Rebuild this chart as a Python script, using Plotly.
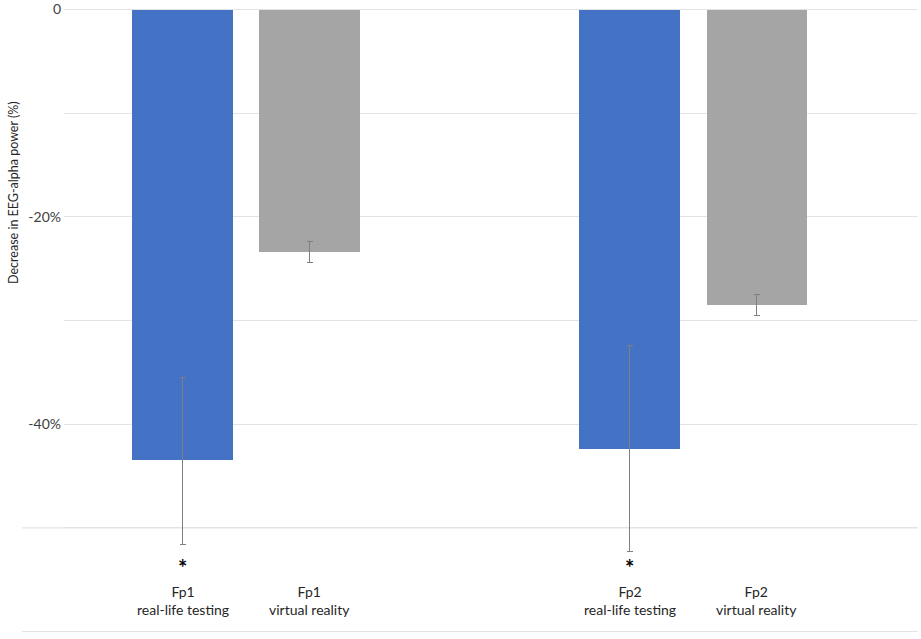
import plotly.graph_objects as go

# Values (percent change in EEG-alpha power)
labels = ["Fp1<br>real-life testing", "Fp1<br>virtual reality",
          "Fp2<br>real-life testing", "Fp2<br>virtual reality"]
x_pos = [0, 1, 3.52, 4.52]
values = [-43.5, -23.4, -42.4, -28.5]
err_up = [8.0, 1.0, 10.0, 1.0]
err_down = [8.1, 1.0, 9.9, 1.0]
colors = ["#4472C4", "#A5A5A5", "#4472C4", "#A5A5A5"]
significant = [True, False, True, False]

y_ticks = [0, -10, -20, -30, -40, -50, -60]
y_ticktext = ["0", "", "-20%", "", "-40%", "", ""]

font_family = "Lato, 'Open Sans', sans-serif"
grid_color = "#E3E3E3"

fig = go.Figure()

fig.add_trace(go.Bar(
    x=x_pos,
    y=values,
    width=0.79,
    marker=dict(color=colors, line=dict(width=0)),
    error_y=dict(
        type="data",
        symmetric=False,
        array=err_up,
        arrayminus=err_down,
        color="#7F7F7F",
        thickness=1,
        width=3,
    ),
    showlegend=False,
    hoverinfo="skip",
))

# category labels sit inside the plot, below the bars
for xp, lab, sig in zip(x_pos, labels, significant):
    fig.add_annotation(
        x=xp, y=-57.0, text=lab, showarrow=False,
        font=dict(size=14, color="#262626", family=font_family),
        align="center", xanchor="center", yanchor="middle",
    )
    if sig:
        fig.add_annotation(
            x=xp, y=-53.8, text="<b>*</b>", showarrow=False,
            font=dict(size=22, color="#000000", family=font_family),
            xanchor="center", yanchor="middle",
        )

# y axis title
fig.add_annotation(
    xref="paper", yref="paper", x=-0.06, y=0.706,
    xanchor="center", yanchor="middle",
    text="Decrease in EEG-alpha power (%)", showarrow=False,
    textangle=-90,
    font=dict(size=12.5, color="#262626", family=font_family),
)

# gridline at 0 (edge of range) and the two lower lines that run further left
fig.add_shape(type="line", xref="paper", yref="y", x0=0, x1=1, y0=0, y1=0,
              line=dict(color=grid_color, width=1.2), layer="below")
for yv in (-50, -60):
    fig.add_shape(type="line", xref="paper", yref="y", x0=-0.049, x1=1,
                  y0=yv, y1=yv, line=dict(color=grid_color, width=1.2),
                  layer="below")

fig.update_layout(
    width=921,
    height=639,
    margin=dict(l=64, r=3, t=9, b=7),
    plot_bgcolor="white",
    paper_bgcolor="white",
    font=dict(family=font_family, size=13, color="#404040"),
    xaxis=dict(
        range=[-0.933, 5.79],
        showticklabels=False,
        showgrid=False,
        zeroline=False,
        showline=False,
        automargin=False,
    ),
    yaxis=dict(
        range=[-60.05, 0.05],
        tickvals=y_ticks,
        ticktext=y_ticktext,
        showgrid=True,
        gridcolor=grid_color,
        gridwidth=1.2,
        zeroline=False,
        showline=False,
        ticks="",
        ticklabelstandoff=2,
        ticklabeloverflow="allow",
        automargin=False,
        tickfont=dict(size=14, color="#404040", family=font_family),
    ),
    bargap=0,
)

fig.write_html("out.html", config={"displayModeBar": False},
               post_script="document.body.style.margin='0';")
